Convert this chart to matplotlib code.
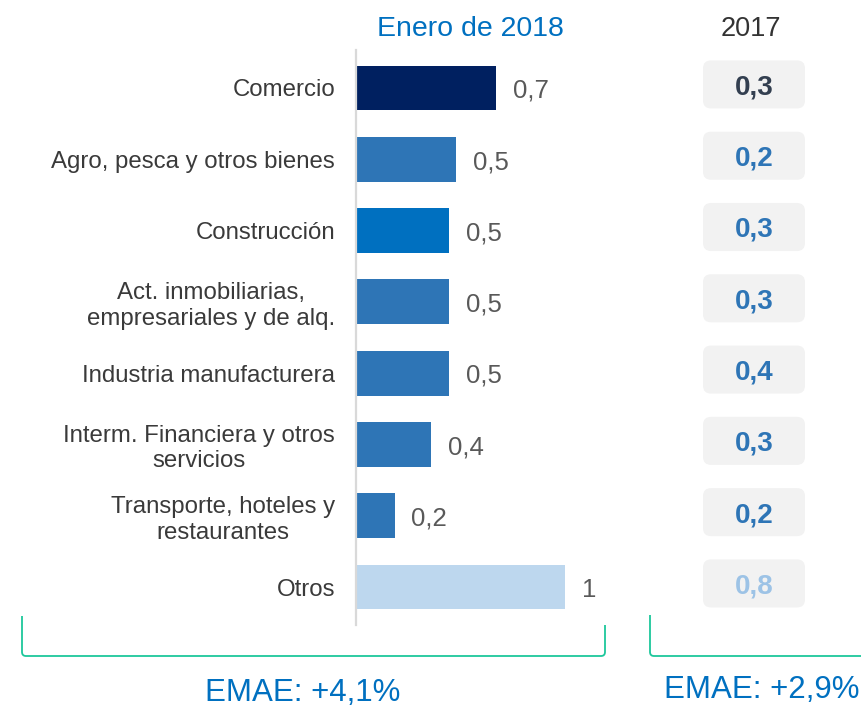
import matplotlib.pyplot as plt
from matplotlib.patches import FancyBboxPatch, PathPatch
from matplotlib.path import Path

plt.rcParams['font.family'] = ['Liberation Sans', 'DejaVu Sans']

sectores = ['Comercio', 'Agro, pesca y otros bienes', 'Construcción',
            'Act. inmobiliarias,\nempresariales y de alq.',
            'Industria manufacturera',
            'Interm. Financiera y otros\nservicios',
            'Transporte, hoteles y\nrestaurantes', 'Otros']
aporte_2018 = [0.67, 0.48, 0.445, 0.445, 0.445, 0.36, 0.185, 1.0]
etiquetas_2018 = ['0,7', '0,5', '0,5', '0,5', '0,5', '0,4', '0,2', '1']
etiquetas_2017 = ['0,3', '0,2', '0,3', '0,3', '0,4', '0,3', '0,2', '0,8']

colores = ['#002060', '#2E75B6', '#0070C0', '#2E75B6', '#2E75B6',
           '#2E75B6', '#2E75B6', '#BDD7EE']
colores_2017 = ['#333F50'] + ['#2E75B6'] * 6 + ['#9DC3E6']

W, H = 861, 708
fig = plt.figure(figsize=(W / 100, H / 100), dpi=100)

# barras 2018
ax = fig.add_axes([356 / W, 83 / H, 251 / W, 575 / H])
pos = list(range(len(sectores)))
ax.barh(pos, aporte_2018, height=0.63, color=colores)
ax.set_xlim(0, 1.2)
ax.set_ylim(7.533, -0.533)
ax.set_yticks(pos)
ax.set_yticklabels(sectores, fontsize=17.3, color='#3A3A3A', linespacing=1.2)
for lab in ax.get_yticklabels():
    lab.set_multialignment('center')
ax.tick_params(axis='y', length=0, pad=15)
ax.set_xticks([])
for s in ['top', 'right', 'bottom']:
    ax.spines[s].set_visible(False)
ax.spines['left'].set_color('#D9D9D9')
ax.spines['left'].set_linewidth(1.6)
for i, (v, t) in enumerate(zip(aporte_2018, etiquetas_2018)):
    ax.annotate(t, (v, i), xytext=(12, -2), textcoords='offset points',
                va='center', ha='left', fontsize=18.5, color='#595959')

# cajas 2017
ax2 = fig.add_axes([703 / W, 83 / H, 102 / W, 575 / H], sharey=ax)
ax2.set_xlim(0, 102)
ax2.axis('off')
px_por_fila = 575 / 8.066
for i, t in enumerate(etiquetas_2017):
    caja = FancyBboxPatch((0, i - 0.05 - 0.337), 102, 0.674,
                          boxstyle='round,pad=0,rounding_size=8',
                          mutation_aspect=1 / px_por_fila,
                          fc='#F2F2F2', ec='none')
    ax2.add_patch(caja)
    ax2.text(51, i - 0.01, t, ha='center', va='center', fontsize=20,
             fontweight='bold', color=colores_2017[i])

# titulos
fig.text(470 / W, 1 - 29 / H, 'Enero de 2018', ha='center', va='center',
         fontsize=20.5, color='#0070C0')
fig.text(751 / W, 1 - 29 / H, '2017', ha='center', va='center',
         fontsize=19.5, color='#333333')

# llaves inferiores
ov = fig.add_axes([0, 0, 1, 1], zorder=-1)
ov.set_xlim(0, W)
ov.set_ylim(H, 0)
ov.axis('off')
verde = '#1CC79B'


def llave(x0, x1, ytop, ybot, r=4):
    verts = [(x0, ytop), (x0, ybot - r), (x0, ybot), (x0 + r, ybot),
             (x1 - r, ybot), (x1, ybot), (x1, ybot - r), (x1, ytop)]
    codes = [Path.MOVETO, Path.LINETO, Path.CURVE3, Path.CURVE3,
             Path.LINETO, Path.CURVE3, Path.CURVE3, Path.LINETO]
    ov.add_patch(PathPatch(Path(verts, codes), fc='none', ec=verde, lw=1.3))


llave(22, 605, 616, 656)
llave(650, 880, 615, 656)

fig.text(303 / W, 1 - 693 / H, 'EMAE: +4,1%', ha='center', va='center',
         fontsize=22.5, color='#0070C0')
fig.text(762 / W, 1 - 690 / H, 'EMAE: +2,9%', ha='center', va='center',
         fontsize=22.5, color='#0070C0')

fig.savefig('out.png', dpi=100)
